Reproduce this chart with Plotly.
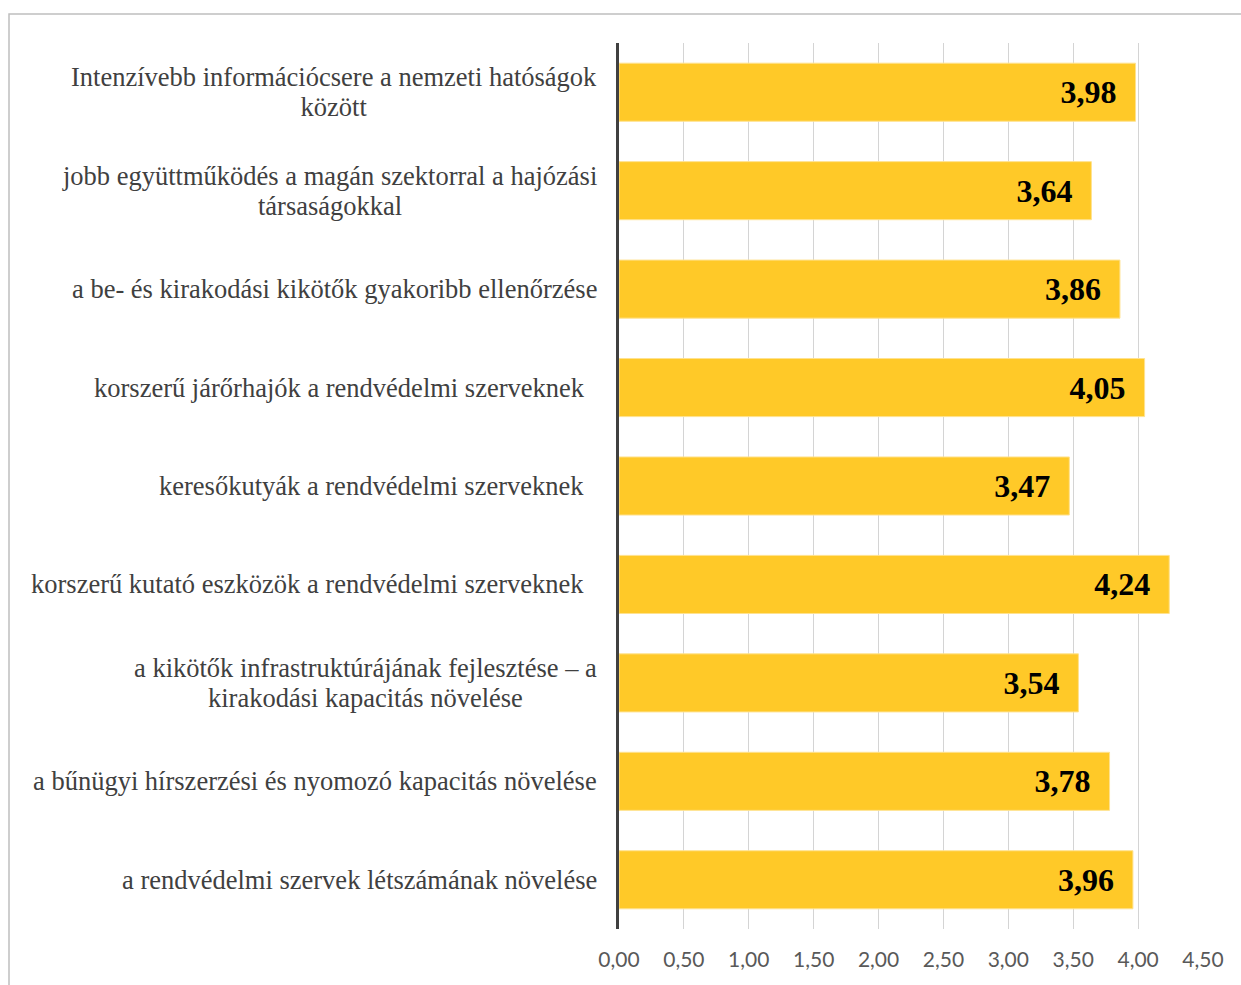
import plotly.graph_objects as go

categories = [
    "Intenzívebb információcsere a nemzeti hatóságok<br>között",
    "jobb együttműködés a magán szektorral a hajózási<br>társaságokkal",
    "a be- és kirakodási kikötők gyakoribb ellenőrzése",
    "korszerű járőrhajók a rendvédelmi szerveknek\u00a0\u00a0",
    "keresőkutyák a rendvédelmi szerveknek\u00a0\u00a0",
    "korszerű kutató eszközök a rendvédelmi szerveknek\u00a0\u00a0",
    "a kikötők infrastruktúrájának fejlesztése – a<br>kirakodási kapacitás növelése",
    "a bűnügyi hírszerzési és nyomozó kapacitás növelése",
    "a rendvédelmi szervek létszámának növelése",
]
values = [3.98, 3.64, 3.86, 4.05, 3.47, 4.24, 3.54, 3.78, 3.96]
x_ticks = [0, 0.5, 1.0, 1.5, 2.0, 2.5, 3.0, 3.5, 4.0, 4.5]

W, H = 1241, 985
ML, MR, MT, MB = 619, 38, 43, 56
PW, PH = W - ML - MR, H - MT - MB

ids = list(range(len(categories)))

fig = go.Figure()
fig.add_trace(go.Bar(
    x=values, y=ids, orientation="h",
    marker=dict(color="#FFC928", line=dict(color="#FFE28F", width=1)),
    texttemplate="%{x:.2f}\u2002",
    textposition="inside", insidetextanchor="end",
    textfont=dict(family="Liberation Serif", size=32, color="#000000", weight="bold"),
    cliponaxis=False,
    width=0.59,
    hoverinfo="skip",
))

annotations = []
for i, c in zip(ids, categories):
    lines = c.split("<br>")
    txt = "<br>".join('<span style="font-size:26.5px">' + ln + "</span>" for ln in lines)
    annotations.append(dict(
        x=0, xref="paper", y=i, yref="y", text=txt, showarrow=False,
        xanchor="right", yanchor="middle", align="center", xshift=-20,
        font=dict(family="Liberation Serif", size=23, color="#404040"),
    ))

fig.update_layout(
    width=W, height=H,
    margin=dict(l=ML, r=MR, t=MT, b=MB, pad=0),
    paper_bgcolor="white", plot_bgcolor="white",
    separators=", ",
    showlegend=False,
    annotations=annotations,
    shapes=[dict(
        type="rect", xref="paper", yref="paper",
        x0=(9 - ML) / PW, x1=(W + 10 - ML) / PW,
        y0=-(H + 10 - (MT + PH)) / PH, y1=1 + (MT - 14) / PH,
        line=dict(color="#BFBFBF", width=1.5), layer="below",
    )],
    xaxis=dict(
        range=[0, 4.5], tickvals=x_ticks, tickformat=".2f",
        showgrid=True, gridcolor="#D4D4D4", gridwidth=1,
        zeroline=False, showline=False, ticks="",
        tickfont=dict(family="Lato", size=21, color="#595959"),
        ticklabelstandoff=16,
    ),
    yaxis=dict(
        range=[len(categories) - 0.5, -0.5],
        showticklabels=False, ticks="", showgrid=False, zeroline=False,
        showline=True, linecolor="#404040", linewidth=3,
    ),
)

fig.write_html("out.html")
